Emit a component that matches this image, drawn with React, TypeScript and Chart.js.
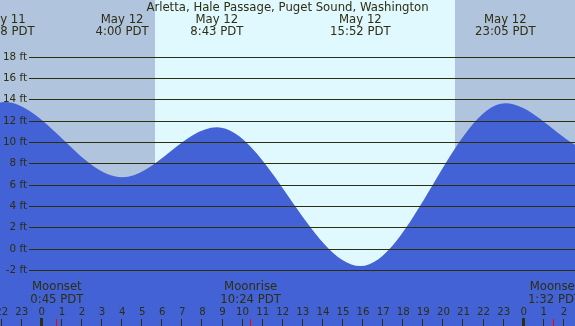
import React, { useEffect, useRef } from "react";
import { Chart, registerables } from "chart.js";

Chart.register(...registerables);

// Tide extremes (hours since May 12 00:00 PDT)
const extremeHours = [-1.867, 4.0, 8.717, 15.867, 23.083];
const extremeFeet = [13.8, 6.75, 11.44, -1.57, 13.7];
const extremeDates = ["May 11", "May 12", "May 12", "May 12", "May 12"];
const extremeTimes = ["22:08 PDT", "4:00 PDT", "8:43 PDT", "15:52 PDT", "23:05 PDT"];

// Curve values at the visible edges
const edgeHours = [-2.082, 26.554];
const edgeFeet = [13.76, 9.8];

// Sun
const sunriseHour = 5.633;
const sunsetHour = 20.6;

// Moon events
const moonHours = [0.75, 10.4, 25.533];
const moonNames = ["Moonset", "Moonrise", "Moonset"];
const moonTimes = ["0:45 PDT", "10:24 PDT", "1:32 PDT"];

// Axis ticks
const feetTicks = [-2, 0, 2, 4, 6, 8, 10, 12, 14, 16, 18];
const hourTicks = [-2, -1, 0, 1, 2, 3, 4, 5, 6, 7, 8, 9, 10, 11, 12, 13, 14, 15, 16, 17, 18, 19, 20, 21, 22, 23, 24, 25, 26];
const hourLabels = ["22", "23", "0", "1", "2", "3", "4", "5", "6", "7", "8", "9", "10", "11", "12", "13", "14", "15", "16", "17", "18", "19", "20", "21", "22", "23", "0", "1", "2"];

const title = "Arletta, Hale Passage, Puget Sound, Washington";

const TEXT = "#2e2e10";
const GRID = "#2e2e0c";
const NIGHT = "#b0c4de";
const DAY = "#e0f8ff";
const WATER = "#4262d6";
const FONT = '"DejaVu Sans", sans-serif';

const decor = {
  id: "tideDecor",
  beforeDatasetsDraw(chart: any) {
    const { ctx, chartArea, scales } = chart;
    const x = scales.x;
    const xr = x.getPixelForValue(sunriseHour);
    const xs = x.getPixelForValue(sunsetHour);
    ctx.save();
    ctx.fillStyle = NIGHT;
    ctx.fillRect(chartArea.left, chartArea.top, chartArea.right - chartArea.left, chartArea.bottom - chartArea.top);
    ctx.fillStyle = DAY;
    ctx.fillRect(Math.round(xr), chartArea.top, Math.round(xs) - Math.round(xr), chartArea.bottom - chartArea.top);
    ctx.restore();
  },
  afterDatasetsDraw(chart: any) {
    const { ctx, chartArea, scales } = chart;
    const x = scales.x;
    const y = scales.y;
    ctx.save();
    // grid lines & y labels
    ctx.strokeStyle = GRID;
    ctx.lineWidth = 1;
    ctx.fillStyle = TEXT;
    ctx.font = "10.4px " + FONT;
    ctx.textAlign = "right";
    ctx.textBaseline = "middle";
    feetTicks.forEach((v) => {
      const py = Math.floor(y.getPixelForValue(v)) + 0.5;
      ctx.beginPath();
      ctx.moveTo(29, py);
      ctx.lineTo(chartArea.right, py);
      ctx.stroke();
      ctx.fillText(v + " ft", 27, py);
    });
    // title
    ctx.font = "11.7px " + FONT;
    ctx.textAlign = "center";
    ctx.fillText(title, (chartArea.left + chartArea.right) / 2, 8);
    // tide extremes labels
    extremeHours.forEach((h, i) => {
      const px = x.getPixelForValue(h);
      ctx.fillText(extremeDates[i], px, 20);
      ctx.fillText(extremeTimes[i], px, 32);
    });
    // moon labels
    moonHours.forEach((h, i) => {
      const px = x.getPixelForValue(h);
      ctx.fillText(moonNames[i], px, 287);
      ctx.fillText(moonTimes[i], px, 299.5);
    });
    // hour labels and ticks
    ctx.font = "10.2px " + FONT;
    hourTicks.forEach((h, i) => {
      const px = x.getPixelForValue(h);
      ctx.fillStyle = TEXT;
      ctx.fillText(hourLabels[i], px, 312);
      if (hourLabels[i] === "0") {
        ctx.fillRect(Math.round(px) - 2, 318, 3, chartArea.bottom - 318);
      } else {
        ctx.fillRect(Math.round(px) - 1, 319, 1, chartArea.bottom - 319);
      }
    });
    ctx.fillStyle = "#ff0000";
    moonHours.forEach((h) => {
      const px = x.getPixelForValue(h);
      ctx.fillRect(Math.round(px) - 1, 319, 1, chartArea.bottom - 319);
    });
    ctx.restore();
  },
};

export default function App() {
  const ref = useRef<HTMLCanvasElement | null>(null);
  useEffect(() => {
    document.body.style.margin = "0";
    const pts = [
      { x: edgeHours[0], y: edgeFeet[0] },
      ...extremeHours.map((h, i) => ({ x: h, y: extremeFeet[i] })),
      { x: edgeHours[1], y: edgeFeet[1] },
    ];
    const chart = new Chart(ref.current as HTMLCanvasElement, {
      type: "line",
      data: {
        datasets: [
          {
            data: pts,
            borderWidth: 0,
            borderColor: WATER,
            backgroundColor: WATER,
            fill: "start",
            pointRadius: 0,
            cubicInterpolationMode: "monotone",
          },
        ],
      },
      options: {
        animation: false,
        responsive: true,
        maintainAspectRatio: false,
        layout: { padding: 0 },
        plugins: { legend: { display: false }, tooltip: { enabled: false }, title: { display: false } },
        scales: {
          x: { type: "linear", display: false, min: edgeHours[0], max: edgeHours[1] },
          y: { type: "linear", display: false, min: -7.19, max: 23.37 },
        },
      },
      plugins: [decor],
    });
    return () => chart.destroy();
  }, []);
  return (
    <div style={{ position: "absolute", left: 0, top: 0, width: 575, height: 326 }}>
      <canvas ref={ref} />
    </div>
  );
}
